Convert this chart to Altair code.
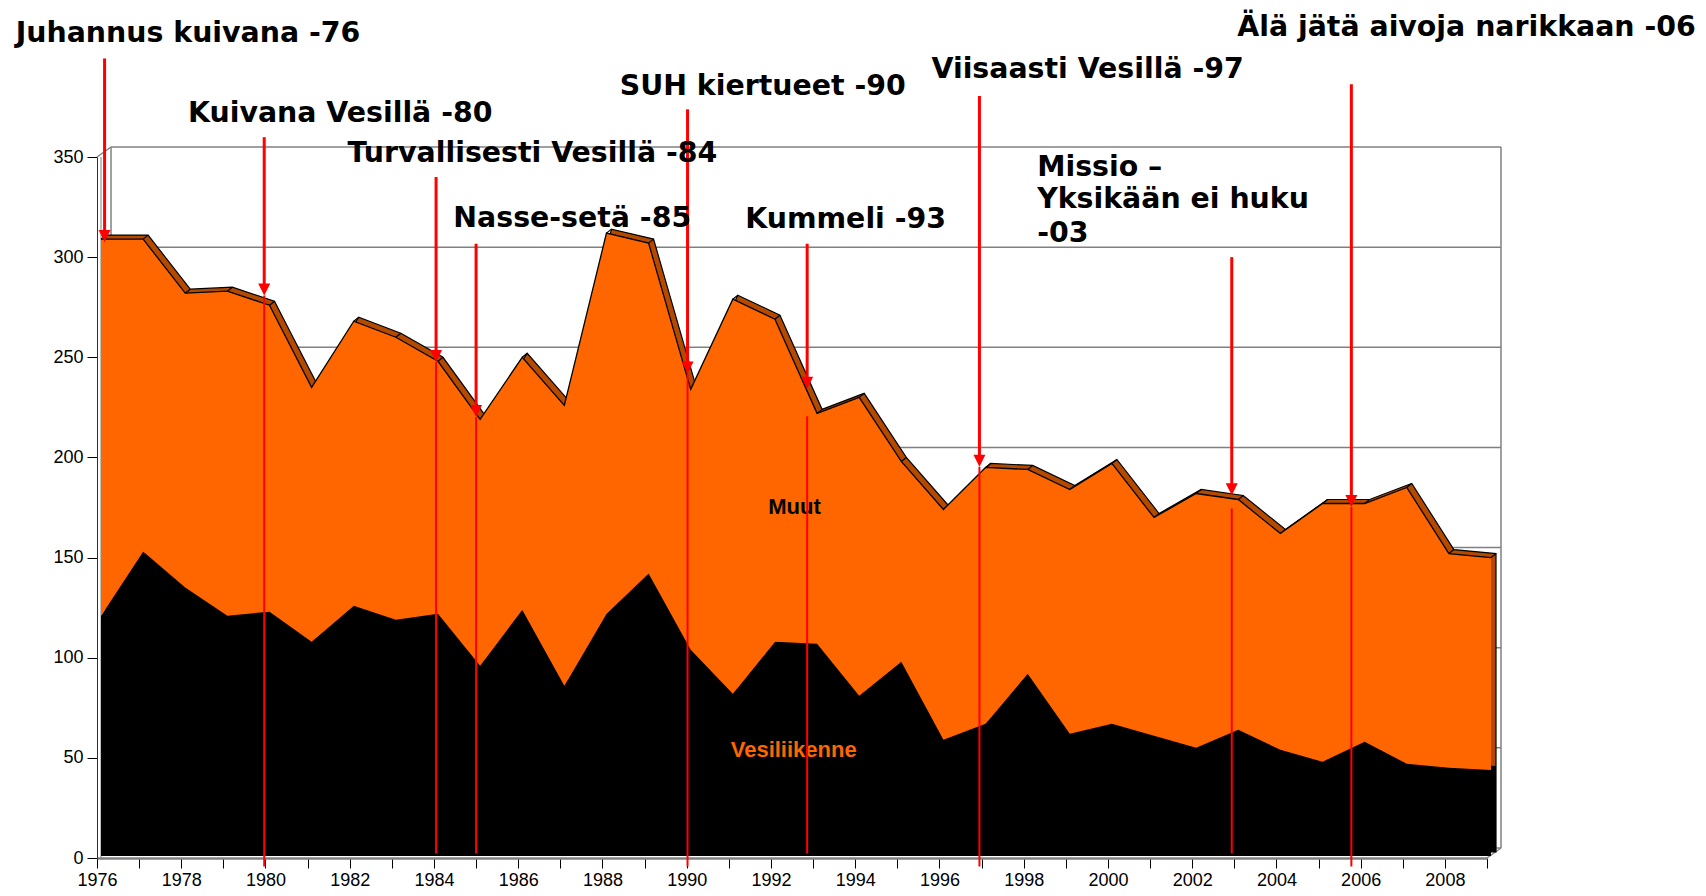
import altair as alt
import pandas as pd

# ---------------- data ----------------
years = list(range(1976, 2010))
vesiliikenne = [120, 152, 134, 120, 122, 107, 125, 118, 121, 95,
                123, 85, 121, 141, 103, 81, 107, 106, 80, 97,
                58, 66, 91, 61, 66, 60, 54, 63, 53, 47,
                57, 46, 44, 43]
muut = [188, 156, 147, 162, 153, 127, 142, 141, 126, 123,
        126, 140, 190, 165, 130, 197, 161, 115, 149, 100,
        115, 128, 102, 122, 130, 109, 127, 115, 108, 129,
        119, 138, 107, 106]

series_names = ["Muut", "Vesiliikenne"]
series_label_x = [1992.56, 1992.54]
series_label_y = [175.3, 53.9]

ann_text = ["Juhannus kuivana -76", "Kuivana Vesillä -80", "Turvallisesti Vesillä -84",
            "Nasse-setä -85", "SUH kiertueet -90", "Kummeli -93", "Viisaasti Vesillä -97",
            "Missio –", "Yksikään ei huku", "-03", "Älä jätä aivoja narikkaan -06"]
ann_x = [1974.07, 1978.16, 1981.95, 1984.46, 1988.41, 1991.39, 1995.81,
         1998.32, 1998.32, 1998.32, 2003.07]
ann_y = [411.7, 372.2, 352.2, 319.3, 385.2, 319.1, 393.9, 345.1, 328.9, 312.1, 415.1]

arrow_x = [1976.18, 1979.97, 1984.05, 1985.0, 1990.02, 1992.86, 1996.95, 2002.94, 2005.78]
arrow_top = [399.2, 359.9, 340.0, 306.7, 373.8, 306.7, 380.4, 300.0, 386.3]
arrow_tip = [307.5, 280.9, 247.7, 220.2, 241.9, 234.3, 195.3, 181.1, 175.3]

drop_x = [1979.97, 1984.05, 1985.0, 1990.02, 1992.86, 1996.95, 2002.94, 2005.78]
drop_top = [280.9, 247.7, 220.2, 241.9, 220.6, 195.3, 174.5, 175.3]
drop_bottom = [-4.3, 2.3, 2.3, -4.3, 2.3, -4.3, 2.3, -4.3]

grid_values = [0, 50, 100, 150, 200, 250, 300, 350]
x_domain = [1976, 2009]
y_domain = [0, 350]

ORANGE = "#FF6600"
BROWN = "#B44A00"
RED = "#FF0000"
GREY = "#808080"

# ---------------- tables ----------------
df = pd.DataFrame({"year": years, "vesi": vesiliikenne, "muut": muut})
df["total"] = df["vesi"] + df["muut"]

ann_df = pd.DataFrame({"x": ann_x, "y": ann_y, "label": ann_text})
arrow_df = pd.DataFrame({"x": arrow_x, "top": arrow_top, "tip": arrow_tip})
drop_df = pd.DataFrame({"x": drop_x, "top": drop_top, "bottom": drop_bottom})
grid_df = pd.DataFrame({"v": grid_values, "x0": x_domain[0], "x1": x_domain[1]})
wall_df = pd.DataFrame({"x": x_domain, "y0": 0, "y1": 350})
corner_df = pd.DataFrame({"x": x_domain, "y": [350, 0]})
series_df = pd.DataFrame({"x": series_label_x, "y": series_label_y, "name": series_names})

# ---------------- scales / axes ----------------
xs = alt.Scale(domain=x_domain, nice=False, zero=False)
ys = alt.Scale(domain=y_domain, nice=False, zero=False)

x_axis = alt.Axis(values=years, labelExpr="datum.value % 2 == 0 ? format(datum.value, 'd') : ''",
                  grid=False, tickSize=10, tickColor="#000000", tickWidth=1,
                  domainColor=GREY, domainWidth=2.5, labelFont="Liberation Sans",
                  labelFontSize=18, labelColor="#000000", labelPadding=3,
                  labelFlush=False, labelOverlap=False)
y_axis = alt.Axis(values=grid_values, grid=False, tickSize=10, tickColor="#000000",
                  tickWidth=1, domainColor="#303030", domainWidth=1,
                  labelFont="Liberation Sans", labelFontSize=18, labelColor="#000000",
                  labelPadding=4)


def X(f):
    return alt.X(f + ":Q", scale=xs, axis=x_axis, title=None)


def Y(f):
    return alt.Y(f + ":Q", scale=ys, axis=y_axis, title=None)


# ---------------- 3D frame ----------------
back_grid = alt.Chart(grid_df).mark_rule(color=GREY, strokeWidth=1.5, xOffset=14, x2Offset=14,
                                         yOffset=-10).encode(x=X("x0"), x2="x1", y=Y("v"))
walls = alt.Chart(wall_df).mark_rule(color=GREY, strokeWidth=1.5, xOffset=14, yOffset=-10,
                                     y2Offset=-10).encode(x=X("x"), y=Y("y0"), y2="y1")
corners = alt.Chart(corner_df).mark_rule(color=GREY, strokeWidth=1.5, x2Offset=14,
                                         y2Offset=-10).encode(x=X("x"), x2="x", y=Y("y"), y2="y")
side_line = alt.Chart(wall_df.iloc[:1]).mark_rule(color=GREY, strokeWidth=1, xOffset=4).encode(
    x=X("x"), y=Y("y0"), y2="y1")

# ---------------- data surfaces ----------------
back_total = alt.Chart(df).mark_area(color=BROWN, stroke="#000000", strokeWidth=1.2,
                                     xOffset=9, yOffset=-6, y2Offset=-6).encode(
    x=X("year"), y=Y("total"), y2=alt.datum(0))
back_vesi = alt.Chart(df).mark_area(color="#000000", xOffset=9, yOffset=-6, y2Offset=-6).encode(
    x=X("year"), y=Y("vesi"), y2=alt.datum(0))
connectors = alt.Chart(df).mark_rule(color="#000000", strokeWidth=1.2, xOffset=4, yOffset=-2,
                                     x2Offset=9, y2Offset=-6).encode(
    x=X("year"), x2="year", y=Y("total"), y2="total")
front_vesi = alt.Chart(df).mark_area(color="#000000", xOffset=4, yOffset=-2, y2Offset=-2).encode(
    x=X("year"), y=Y("vesi"), y2=alt.datum(0))
front_muut = alt.Chart(df).mark_area(color=ORANGE, xOffset=4, yOffset=-2, y2Offset=-2).encode(
    x=X("year"), y=Y("total"), y2="vesi")
front_line = alt.Chart(df).mark_line(color="#000000", strokeWidth=1.3, xOffset=4, yOffset=-2).encode(
    x=X("year"), y=Y("total"))

series_labels = alt.Chart(series_df).mark_text(font="Liberation Sans", fontWeight="bold",
                                               fontSize=22, align="center", baseline="middle").encode(
    x=X("x"), y=Y("y"), text="name:N",
    color=alt.Color("name:N", scale=alt.Scale(domain=series_names, range=["#000000", ORANGE]),
                    legend=None))

# ---------------- annotations ----------------
drops = alt.Chart(drop_df).mark_rule(color=RED, strokeWidth=2).encode(
    x=X("x"), y=Y("top"), y2="bottom")
shafts = alt.Chart(arrow_df).transform_calculate(base="datum.tip + 5").mark_rule(
    color=RED, strokeWidth=3).encode(x=X("x"), y=Y("top"), y2="base:Q")
heads = alt.Chart(arrow_df).mark_point(shape="M -0.5 -1 L 0.5 -1 L 0 0 Z", size=576, filled=True,
                                       color=RED, opacity=1, strokeWidth=0).encode(
    x=X("x"), y=Y("tip"))
texts = alt.Chart(ann_df).mark_text(font="DejaVu Sans", fontWeight="bold", fontSize=28.4,
                                    align="left", baseline="middle", color="#000000").encode(
    x=X("x"), y=Y("y"), text="label:N")

chart = alt.layer(
    back_grid, walls, corners, side_line,
    back_total, back_vesi, connectors,
    front_vesi, front_muut, front_line,
    series_labels, drops, shafts, heads, texts
).properties(
    width=1390, height=701,
    padding={"left": 89, "top": 149, "right": 208, "bottom": 30},
    autosize=alt.AutoSizeParams(type="none"),
).configure_view(strokeWidth=0)

chart.save("out.html", embed_options={"renderer": "svg", "actions": False})
